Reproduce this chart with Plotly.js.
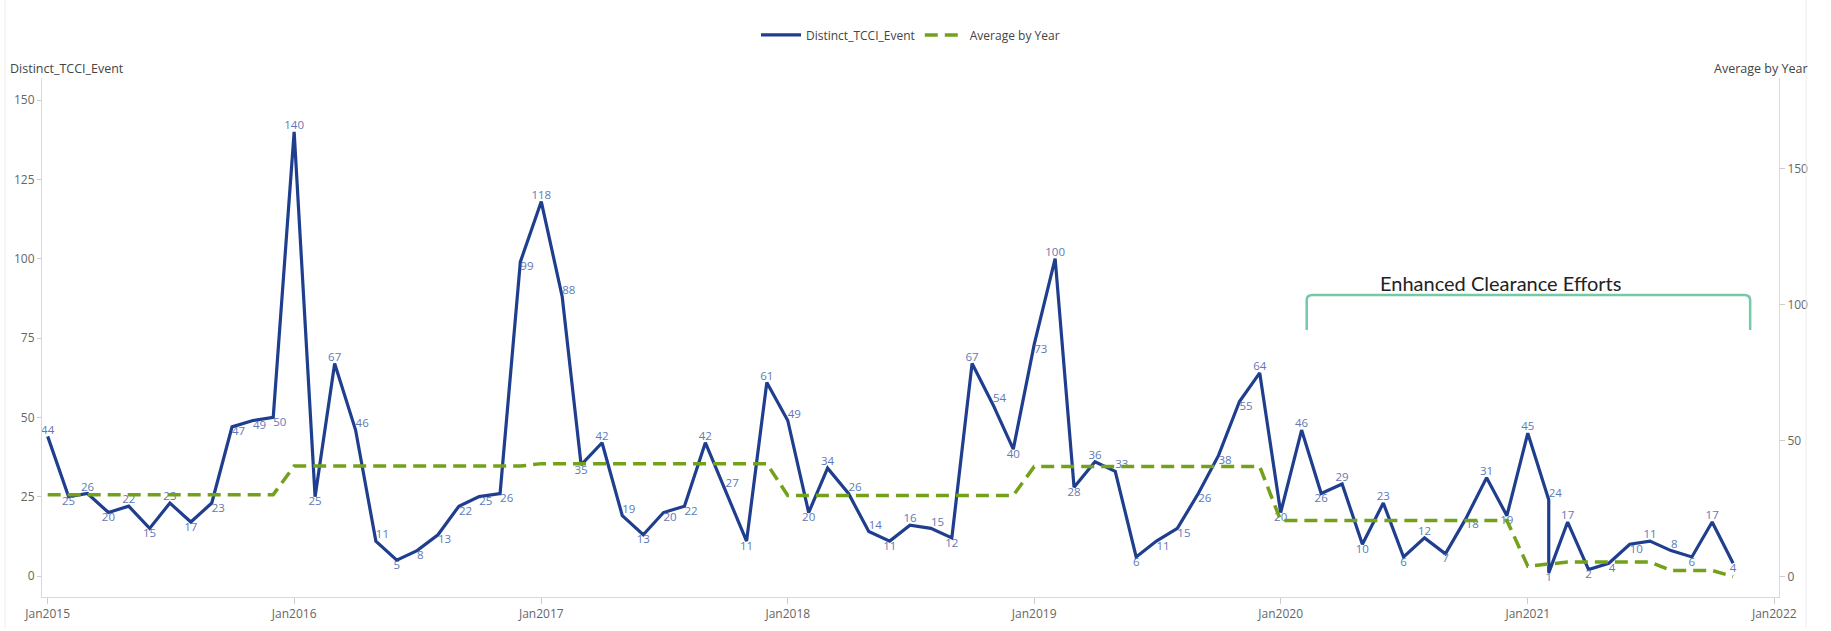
<!DOCTYPE html>
<html>
<head>
<meta charset="utf-8">
<script src="https://cdn.plot.ly/plotly-3.0.1.min.js"></script>
<style>
html,body{margin:0;padding:0;background:#ffffff;}
#chart{width:1831px;height:631px;}
</style>
</head>
<body>
<div id="chart"></div>
<script>
// ---- data ----
const periods = [
  '2015-01-01','2015-02-01','2015-03-01','2015-04-01','2015-05-01','2015-06-01','2015-07-01','2015-08-01','2015-09-01','2015-10-01','2015-11-01','2015-12-01',
  '2016-01-01','2016-02-01','2016-03-01','2016-04-01','2016-05-01','2016-06-01','2016-07-01','2016-08-01','2016-09-01','2016-10-01','2016-11-01','2016-12-01',
  '2017-01-01','2017-02-01','2017-03-01','2017-04-01','2017-05-01','2017-06-01','2017-07-01','2017-08-01','2017-09-01','2017-10-01','2017-11-01','2017-12-01',
  '2018-01-01','2018-02-01','2018-03-01','2018-04-01','2018-05-01','2018-06-01','2018-07-01','2018-08-01','2018-09-01','2018-10-01','2018-11-01','2018-12-01',
  '2019-01-01','2019-02-01','2019-03-01','2019-04-01','2019-05-01','2019-06-01','2019-07-01','2019-08-01','2019-09-01','2019-10-01','2019-11-01','2019-12-01',
  '2020-01-01','2020-02-01','2020-03-01','2020-04-01','2020-05-01','2020-06-01','2020-07-01','2020-08-01','2020-09-01','2020-10-01','2020-11-01','2020-12-01',
  '2021-01-01','2021-02-01','2021-02-01','2021-03-01','2021-04-01','2021-05-01','2021-06-01','2021-07-01','2021-08-01','2021-09-01','2021-10-01','2021-11-01'
];

const distinctTcciEvent = [
  44, 25, 26, 20, 22, 15, 23, 17, 23, 47, 49, 50,
  140, 25, 67, 46, 11, 5, 8, 13, 22, 25, 26, 99,
  118, 88, 35, 42, 19, 13, 20, 22, 42, 27, 11, 61,
  49, 20, 34, 26, 14, 11, 16, 15, 12, 67, 54, 40,
  73, 100, 28, 36, 33, 6, 11, 15, 26, 38, 55, 64,
  20, 46, 26, 29, 10, 23, 6, 12, 7, 18, 31, 19,
  45, 24, 1, 17, 2, 4, 10, 11, 8, 6, 17, 4
];

const averageByYear = [
  30.1, 30.1, 30.1, 30.1, 30.1, 30.1, 30.1, 30.1, 30.1, 30.1, 30.1, 30.1,
  40.6, 40.6, 40.6, 40.6, 40.6, 40.6, 40.6, 40.6, 40.6, 40.6, 40.6, 40.6,
  41.5, 41.5, 41.5, 41.5, 41.5, 41.5, 41.5, 41.5, 41.5, 41.5, 41.5, 41.5,
  29.8, 29.8, 29.8, 29.8, 29.8, 29.8, 29.8, 29.8, 29.8, 29.8, 29.8, 29.8,
  40.4, 40.4, 40.4, 40.4, 40.4, 40.4, 40.4, 40.4, 40.4, 40.4, 40.4, 40.4,
  20.6, 20.6, 20.6, 20.6, 20.6, 20.6, 20.6, 20.6, 20.6, 20.6, 20.6, 20.6,
  3.8, 4.7, 4.7, 5.3, 5.3, 5.3, 5.3, 5.3, 2.2, 2.2, 2.2, 0
];

const leftTicks = [0, 25, 50, 75, 100, 125, 150];
const rightTicks = [0, 50, 100, 150];
const yearTicks = ['2015-01-01','2016-01-01','2017-01-01','2018-01-01','2019-01-01','2020-01-01','2021-01-01','2022-01-01'];
const yearTickText = ['Jan2015','Jan2016','Jan2017','Jan2018','Jan2019','Jan2020','Jan2021','Jan2022'];

// label placement derived from the shape of the line
const labelPos = distinctTcciEvent.map((v, i) => {
  const prev = i > 0 ? distinctTcciEvent[i - 1] : null;
  const next = i < distinctTcciEvent.length - 1 ? distinctTcciEvent[i + 1] : null;
  if (prev === null) return 'top center';
  if (next === null) return v < prev ? 'bottom center' : 'top center';
  if (v > prev && v > next) return 'top center';
  if (v < prev && v < next) return 'bottom center';
  if (next > v) return 'bottom right';
  return 'top right';
});

const FONT = 'Open Sans, Noto Sans, sans-serif';

const traces = [
  {
    type: 'scatter',
    mode: 'lines+text',
    name: 'Distinct_TCCI_Event',
    x: periods,
    y: distinctTcciEvent,
    text: distinctTcciEvent.map(String),
    textposition: labelPos,
    textfont: {family: FONT, size: 11.5, color: '#6079b5'},
    cliponaxis: false,
    line: {color: '#1f3e8e', width: 3.2},
    hoverinfo: 'skip'
  },
  {
    type: 'scatter',
    mode: 'lines',
    name: 'Average by Year',
    x: periods,
    y: averageByYear,
    yaxis: 'y2',
    line: {color: '#74a11a', width: 3.5, dash: '13px,7px'},
    hoverinfo: 'skip'
  }
];

const axisCommon = {
  showgrid: false,
  zeroline: false,
  showline: true,
  linecolor: '#d9d9d9',
  linewidth: 1,
  ticks: 'outside',
  ticklen: 5,
  tickcolor: '#cccccc',
  tickfont: {family: FONT, size: 12, color: '#666666'}
};

const layout = {
  width: 1831,
  height: 631,
  paper_bgcolor: '#ffffff',
  plot_bgcolor: '#ffffff',
  margin: {l: 42, r: 52, t: 78, b: 34, pad: 0},
  showlegend: true,
  legend: {
    orientation: 'h',
    x: 0.5, xanchor: 'center',
    y: 1.083, yanchor: 'middle',
    font: {family: FONT, size: 12, color: '#444444'},
    itemwidth: 40,
    tracegroupgap: 0
  },
  xaxis: Object.assign({}, axisCommon, {
    type: 'date',
    range: ['2014-12-23 14:00', '2022-01-08'],
    tickvals: yearTicks,
    ticktext: yearTickText,
    ticklen: 6
  }),
  yaxis: Object.assign({}, axisCommon, {
    range: [-6.62, 156.95],
    tickvals: leftTicks,
    ticklen: 4
  }),
  yaxis2: Object.assign({}, axisCommon, {
    overlaying: 'y',
    side: 'right',
    range: [-7.54, 183.3],
    tickvals: rightTicks,
    ticklen: 5
  }),
  shapes: [
    {
      type: 'path', xref: 'paper', yref: 'paper',
      path: 'M 0.7281 0.5145 L 0.7281 0.572 Q 0.7281 0.5819 0.7315 0.5819 L 0.9800 0.5819 Q 0.9834 0.5819 0.9834 0.572 L 0.9834 0.5145',
      line: {color: '#74c9a6', width: 2.5}
    },
    {type: 'line', xref: 'paper', yref: 'paper', x0: -0.0213, x1: -0.0213, y0: -0.06, y1: 1.16, line: {color: '#ececec', width: 1}},
    {type: 'line', xref: 'paper', yref: 'paper', x0: 1.0156, x1: 1.0156, y0: -0.06, y1: 1.16, line: {color: '#ececec', width: 1}}
  ],
  annotations: [
    {
      xref: 'paper', yref: 'paper', x: -0.0195, y: 1.019,
      xanchor: 'left', yanchor: 'middle', showarrow: false,
      text: 'Distinct_TCCI_Event',
      font: {family: FONT, size: 12.5, color: '#444444'}
    },
    {
      xref: 'paper', yref: 'paper', x: 1.0179, y: 1.019,
      xanchor: 'right', yanchor: 'middle', showarrow: false,
      text: 'Average by Year',
      font: {family: FONT, size: 12.5, color: '#444444'}
    },
    {
      xref: 'paper', yref: 'paper', x: 0.8394, y: 0.605,
      xanchor: 'center', yanchor: 'middle', showarrow: false,
      text: 'Enhanced Clearance Efforts',
      font: {family: 'Lato, Open Sans, sans-serif', size: 20, color: '#222222'}
    }
  ]
};

Plotly.newPlot('chart', traces, layout, {displayModeBar: false, staticPlot: true});
</script>
</body>
</html>
